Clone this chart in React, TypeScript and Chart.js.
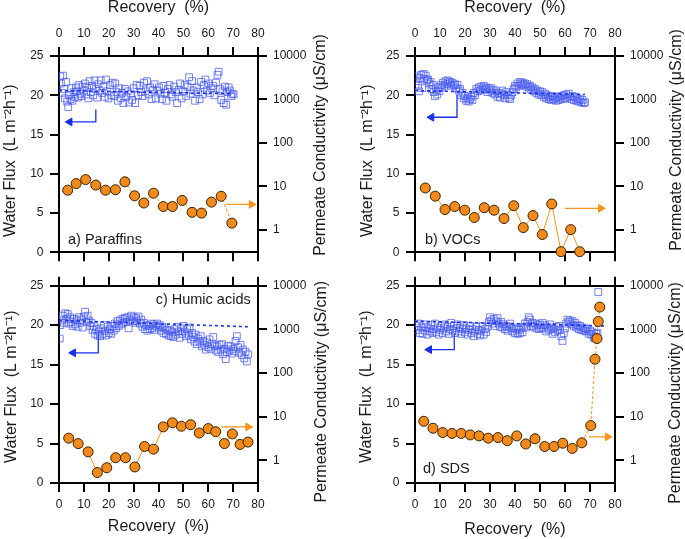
import React, { useEffect, useRef } from "react";
import { Chart, registerables } from "chart.js";

Chart.register(...registerables);

const FONT = "'Liberation Sans', Arial, Helvetica, sans-serif";
const INK = "#1a1a1a";

// ---------- axis values ----------
const RECOVERY_MIN = 0;
const RECOVERY_MAX = 80;
const RECOVERY_STEP = 10;
const FLUX_MIN = 0;
const FLUX_MAX = 25;
const FLUX_STEP = 5;
const COND_MIN = 0.3;
const COND_MAX = 10000;
const COND_TICKS = [1, 10, 100, 1000, 10000];

const X_TITLE = "Recovery  (%)";
const LEFT_TITLE = "Water Flux  (L m\u207B\u00B2h\u207B\u00B9)";
const RIGHT_TITLE = "Permeate Conductivity (\u03BCS/cm)";

// ---------- a) Paraffins ----------
const fluxA: [number, number][] = [
  [0.5, 22.4], [0.8, 21.5], [1.2, 20.3], [1.6, 22.5], [2.0, 20.8], [2.4, 19.6], [2.8, 21.7], [3.3, 19.2],
  [3.7, 18.5], [4.1, 20.0], [4.6, 19.5], [5.0, 20.9], [5.4, 19.3], [5.9, 20.4], [6.3, 19.8], [6.8, 21.0],
  [7.2, 20.5], [7.6, 19.7], [8.1, 21.3], [8.5, 20.2], [9.0, 19.9], [9.4, 21.1], [9.9, 20.6], [10.4, 21.5],
  [10.9, 20.1], [11.3, 21.0], [11.8, 19.6], [12.3, 21.8], [12.8, 20.4], [13.3, 21.2], [13.8, 20.0], [14.3, 21.9],
  [14.8, 20.8], [15.3, 19.7], [15.8, 21.4], [16.3, 20.6], [16.8, 21.9], [17.3, 20.3], [17.9, 21.1], [18.4, 19.8],
  [18.9, 22.0], [19.4, 20.5], [19.9, 19.6], [20.5, 21.3], [21.0, 20.0], [21.5, 21.6], [22.1, 19.9], [22.6, 21.5],
  [23.1, 20.4], [23.7, 19.3], [24.2, 20.9], [24.8, 19.6], [25.3, 20.3], [25.9, 19.0], [26.5, 20.8], [27.0, 19.8],
  [27.6, 20.5], [28.2, 19.1], [28.8, 20.2], [29.4, 19.4], [30.0, 20.9], [30.6, 19.0], [31.2, 21.3], [31.8, 20.0],
  [32.4, 21.2], [33.0, 20.4], [33.6, 19.9], [34.2, 21.6], [34.8, 20.5], [35.4, 21.8], [36.0, 20.1], [36.6, 21.0],
  [37.2, 19.5], [37.8, 20.7], [38.4, 21.4], [39.0, 19.6], [39.6, 20.6], [40.2, 21.0], [40.8, 20.2], [41.4, 19.5],
  [42.0, 21.2], [42.6, 20.3], [43.2, 19.3], [43.8, 20.8], [44.4, 21.3], [45.0, 20.1], [45.6, 19.8], [46.3, 21.1],
  [46.9, 20.4], [47.5, 19.0], [48.1, 20.7], [48.7, 21.5], [49.3, 19.6], [49.9, 20.5], [50.5, 21.3], [51.1, 19.9],
  [51.7, 21.1], [52.3, 22.3], [52.9, 20.2], [53.5, 21.8], [54.1, 20.6], [54.7, 19.3], [55.3, 21.0], [55.9, 20.4],
  [56.5, 19.5], [57.1, 21.7], [57.7, 20.1], [58.3, 21.3], [58.9, 22.0], [59.5, 20.6], [60.1, 21.5], [60.7, 20.3],
  [61.3, 20.9], [61.9, 21.2], [62.5, 20.0], [63.1, 21.6], [63.7, 22.6], [64.2, 23.0], [64.7, 20.8], [65.2, 19.4],
  [65.7, 20.5], [66.2, 19.0], [66.7, 21.1], [67.2, 18.8], [67.7, 20.4], [68.2, 21.0], [68.7, 20.6], [69.2, 19.9],
  [69.7, 20.2], [70.2, 20.1],
];
const condA: [number, number][] = [
  [3.5, 8.1], [6.9, 11.5], [10.7, 14.2], [14.8, 10.6], [18.7, 8.1], [22.7, 8.3], [26.5, 12.6], [30.4, 6.0],
  [34.1, 4.1], [38.0, 6.9], [41.9, 3.4], [45.6, 3.4], [49.5, 4.7], [53.5, 2.5], [57.3, 2.4], [61.3, 4.3],
  [65.2, 5.85], [69.5, 1.41],
];
const trendA: [number, number][] = [[0, 20.6], [70, 20.2]];
const fluxArrowA: [number, number][] = [[14.8, 18.2], [14.8, 16.6], [4.3, 16.6]];
const condArrowA: [number, number][] = [[67.2, 6.1], [77.4, 6.1]];

// ---------- b) VOCs ----------
const fluxB: [number, number][] = [
  [0.3, 21.8], [0.8, 22.4], [1.2, 21.2], [1.6, 20.5], [2.0, 22.2], [2.5, 22.6], [2.9, 20.9], [3.4, 22.7],
  [3.8, 22.1], [4.3, 22.5], [4.8, 21.9], [5.2, 22.0], [5.7, 21.5], [6.2, 21.7], [6.6, 20.8], [7.1, 21.3],
  [7.5, 20.4], [8.0, 19.9], [8.4, 20.6], [8.9, 20.1], [9.3, 21.0], [9.8, 20.5], [10.3, 21.3], [10.7, 21.0],
  [11.2, 21.6], [11.7, 21.2], [12.1, 21.8], [12.6, 21.4], [13.1, 21.9], [13.5, 21.5], [14.0, 21.7], [14.5, 21.2],
  [15.0, 21.6], [15.5, 21.3], [16.0, 21.4], [16.5, 20.9], [17.0, 21.3], [17.5, 20.6], [18.0, 20.8], [18.5, 20.0],
  [19.0, 20.3], [19.5, 19.6], [20.0, 19.9], [20.5, 19.3], [21.0, 19.6], [21.5, 19.2], [22.0, 19.5], [22.5, 19.8],
  [23.0, 19.4], [23.5, 20.3], [24.0, 20.0], [24.5, 20.8], [25.0, 20.5], [25.5, 21.0], [26.0, 20.6], [26.5, 21.1],
  [27.0, 20.7], [27.5, 21.2], [28.0, 20.8], [28.5, 21.0], [29.0, 20.4], [29.5, 20.9], [30.0, 20.6], [30.5, 20.9],
  [31.0, 20.3], [31.5, 20.7], [32.0, 20.1], [32.5, 20.5], [33.0, 19.8], [33.5, 20.3], [34.0, 19.7], [34.5, 20.2],
  [35.0, 20.6], [35.5, 20.0], [36.0, 19.6], [36.5, 20.4], [37.0, 20.1], [37.5, 19.7], [38.0, 19.5], [38.5, 20.0],
  [39.0, 20.4], [39.5, 20.8], [40.0, 21.2], [40.5, 21.0], [41.0, 21.5], [41.5, 21.2], [42.0, 21.7], [42.5, 21.4],
  [43.0, 21.6], [43.5, 21.3], [44.0, 21.5], [44.5, 21.1], [45.0, 21.4], [45.5, 21.0], [46.0, 21.2], [46.5, 20.7],
  [47.0, 21.0], [47.5, 20.5], [48.0, 20.8], [48.5, 20.3], [49.0, 20.6], [49.5, 20.1], [50.0, 20.5], [50.5, 20.0],
  [51.0, 20.4], [51.5, 19.8], [52.0, 20.2], [52.5, 19.6], [53.0, 20.0], [53.5, 19.5], [54.0, 19.8], [54.5, 19.4],
  [55.0, 19.9], [55.5, 19.5], [56.0, 19.7], [56.5, 19.3], [57.0, 19.8], [57.5, 19.4], [58.0, 19.6], [58.5, 19.9],
  [59.0, 19.5], [59.5, 20.0], [60.0, 19.6], [60.5, 20.1], [61.0, 19.7], [61.5, 20.2], [62.0, 19.8], [62.5, 19.5],
  [63.0, 19.9], [63.5, 19.4], [64.0, 19.8], [64.5, 19.3], [65.0, 19.6], [65.5, 19.2], [66.0, 19.5], [66.5, 19.1],
  [67.0, 19.4], [67.5, 19.0], [68.0, 19.1],
];
const condB: [number, number][] = [
  [4.1, 9.1], [8.1, 5.9], [12.0, 2.9], [15.9, 3.4], [19.9, 2.8], [23.7, 1.9], [27.7, 3.2], [31.6, 2.8],
  [35.6, 1.8], [39.5, 3.55], [43.3, 1.11], [47.2, 2.1], [50.9, 0.77], [54.7, 3.9], [58.4, 0.31], [62.3, 1.0],
  [65.9, 0.31],
];
const trendB: [number, number][] = [[0, 20.6], [68, 20.1]];
const fluxArrowB: [number, number][] = [[16.8, 20.1], [16.8, 17.2], [6.6, 17.2]];
const condArrowB: [number, number][] = [[59.9, 5.6], [74.3, 5.6]];

// ---------- c) Humic acids ----------
const fluxC: [number, number][] = [
  [0.3, 18.3], [0.5, 20.0], [1.0, 20.6], [1.5, 21.2], [2.0, 20.3], [2.5, 21.5], [3.0, 20.8], [3.5, 21.4],
  [4.0, 20.2], [4.5, 21.0], [5.0, 20.4], [5.5, 19.9], [6.0, 20.8], [6.5, 20.1], [7.0, 20.6], [7.5, 19.8],
  [8.0, 21.0], [8.5, 20.3], [9.0, 20.7], [9.5, 19.7], [10.0, 21.1], [10.5, 21.7], [11.0, 20.4], [11.5, 21.2],
  [12.0, 20.6], [12.5, 19.9], [13.0, 20.3], [13.5, 19.4], [14.0, 19.9], [14.5, 18.9], [15.0, 19.5], [15.5, 18.7],
  [16.0, 19.2], [16.5, 18.6], [17.0, 19.6], [17.5, 18.9], [18.0, 20.0], [18.5, 19.3], [19.0, 18.7], [19.5, 19.8],
  [20.0, 19.0], [20.5, 19.5], [21.0, 18.9], [21.5, 19.9], [22.0, 19.3], [22.5, 20.2], [23.0, 19.6], [23.5, 20.5],
  [24.0, 19.9], [24.5, 20.6], [25.0, 20.1], [25.5, 20.8], [26.0, 20.3], [26.5, 20.9], [27.0, 20.4], [27.5, 21.0],
  [28.0, 19.6], [28.5, 20.7], [29.0, 21.2], [29.5, 20.5], [30.0, 21.0], [30.5, 20.3], [31.0, 20.9], [31.5, 20.5],
  [32.0, 21.1], [32.5, 20.2], [33.0, 20.7], [33.5, 19.8], [34.0, 20.3], [34.5, 19.5], [35.0, 20.0], [35.5, 19.3],
  [36.0, 19.9], [36.5, 19.5], [37.0, 20.2], [37.5, 19.6], [38.0, 20.1], [38.5, 19.4], [39.0, 19.9], [39.5, 20.2],
  [40.0, 19.7], [40.5, 20.0], [41.0, 19.3], [41.5, 19.8], [42.0, 19.0], [42.5, 19.6], [43.0, 18.9], [43.5, 19.4],
  [44.0, 18.7], [44.5, 19.3], [45.0, 18.6], [45.5, 19.1], [46.0, 18.5], [46.5, 19.5], [47.0, 18.8], [47.5, 19.8],
  [48.0, 19.2], [48.5, 18.4], [49.0, 19.6], [49.5, 18.9], [50.0, 19.9], [50.5, 19.2], [51.0, 18.6], [51.5, 19.5],
  [52.0, 18.8], [52.5, 19.7], [53.0, 18.2], [53.5, 19.0], [54.0, 18.5], [54.5, 17.9], [55.0, 18.8], [55.5, 17.6],
  [56.0, 18.3], [56.5, 17.9], [57.0, 18.6], [57.5, 17.3], [58.0, 18.0], [58.5, 17.5], [59.0, 16.9], [59.5, 17.8],
  [60.0, 17.2], [60.5, 18.2], [61.0, 17.0], [61.5, 17.6], [62.0, 18.5], [62.5, 17.4], [63.0, 16.8], [63.5, 17.3],
  [64.0, 16.6], [64.5, 17.5], [65.0, 16.9], [65.5, 17.6], [66.0, 16.3], [66.5, 17.0], [67.0, 15.7], [67.5, 16.6],
  [68.0, 17.4], [68.5, 16.8], [69.0, 17.3], [69.5, 16.4], [70.0, 17.0], [70.5, 16.7], [71.0, 18.0], [71.5, 18.6],
  [72.0, 17.2], [72.5, 16.5], [73.0, 17.5], [73.5, 16.2], [74.0, 16.9], [74.5, 15.8], [75.0, 16.6], [75.5, 15.4],
  [76.0, 16.3],
];
const condC: [number, number][] = [
  [3.9, 3.2], [7.7, 2.4], [11.7, 1.55], [15.4, 0.52], [19.2, 0.67], [22.8, 1.14], [26.7, 1.14], [30.5, 0.7],
  [34.4, 2.06], [38.0, 1.79], [41.9, 5.8], [45.6, 7.2], [49.2, 6.0], [52.9, 6.5], [56.4, 4.2], [60.0, 5.3],
  [63.0, 4.5], [66.5, 2.4], [69.7, 4.0], [72.8, 2.3], [76.0, 2.6],
];
const trendC: [number, number][] = [[0, 20.6], [76, 19.8]];
const fluxArrowC: [number, number][] = [[15.8, 19.0], [15.8, 16.5], [5.7, 16.5]];
const condArrowC: [number, number][] = [[65.2, 7.1], [76.0, 7.1]];

// ---------- d) SDS ----------
const fluxD: [number, number][] = [
  [0.5, 19.9], [1.0, 19.4], [1.5, 20.2], [2.0, 19.0], [2.5, 19.7], [3.0, 18.9], [3.5, 20.1], [4.0, 19.3],
  [4.5, 19.8], [5.0, 18.8], [5.5, 19.6], [6.0, 19.2], [6.5, 20.0], [7.0, 19.0], [7.5, 19.5], [8.0, 20.2],
  [8.5, 19.1], [9.0, 19.7], [9.5, 18.8], [10.0, 19.4], [10.5, 19.9], [11.0, 19.0], [11.5, 19.6], [12.0, 20.1],
  [12.5, 19.2], [13.0, 19.8], [13.5, 18.9], [14.0, 19.5], [14.5, 20.3], [15.0, 19.3], [15.5, 19.9], [16.0, 19.0],
  [16.5, 19.6], [17.0, 20.1], [17.5, 19.2], [18.0, 19.7], [18.5, 18.9], [19.0, 19.5], [19.5, 20.0], [20.0, 19.1],
  [20.5, 19.6], [21.0, 18.8], [21.5, 19.4], [22.0, 19.9], [22.5, 19.0], [23.0, 19.5], [23.5, 18.6], [24.0, 19.2],
  [24.5, 19.8], [25.0, 18.9], [25.5, 19.4], [26.0, 18.7], [26.5, 19.3], [27.0, 19.9], [27.5, 18.8], [28.0, 19.5],
  [28.5, 19.1], [29.0, 19.8], [29.5, 20.4], [30.0, 21.0], [30.5, 20.6], [31.0, 20.2], [31.5, 20.8], [32.0, 19.9],
  [32.5, 20.5], [33.0, 20.9], [33.5, 20.2], [34.0, 19.8], [34.5, 20.4], [35.0, 19.7], [35.5, 20.1], [36.0, 19.5],
  [36.5, 19.9], [37.0, 19.3], [37.5, 19.8], [38.0, 20.2], [38.5, 19.6], [39.0, 19.2], [39.5, 19.7], [40.0, 19.0],
  [40.5, 19.5], [41.0, 18.9], [41.5, 19.4], [42.0, 19.0], [42.5, 19.6], [43.0, 19.1], [43.5, 19.8], [44.0, 20.2],
  [44.5, 19.7], [45.0, 20.4], [45.5, 21.0], [46.0, 20.7], [46.5, 19.9], [47.0, 20.3], [47.5, 19.8], [48.0, 20.2],
  [48.5, 19.6], [49.0, 20.0], [49.5, 19.5], [50.0, 20.1], [50.5, 19.7], [51.0, 20.3], [51.5, 19.6], [52.0, 20.0],
  [52.5, 19.2], [53.0, 19.8], [53.5, 19.4], [54.0, 20.1], [54.5, 19.5], [55.0, 18.9], [55.5, 19.6], [56.0, 19.1],
  [56.5, 19.8], [57.0, 19.3], [57.5, 19.9], [58.0, 19.4], [58.5, 18.6], [59.0, 18.0], [59.5, 19.0], [60.0, 19.6],
  [60.5, 20.2], [61.0, 20.7], [61.5, 20.4], [62.0, 20.6], [62.5, 20.1], [63.0, 20.5], [63.5, 19.9], [64.0, 20.3],
  [64.5, 19.7], [65.0, 20.0], [65.5, 19.5], [66.0, 19.9], [66.5, 19.4], [67.0, 19.7], [67.5, 19.3], [68.0, 19.6],
  [68.5, 19.2], [69.0, 19.5], [69.5, 18.9], [70.0, 19.3], [70.5, 18.8], [71.0, 19.1], [71.5, 18.5], [72.0, 18.3],
  [72.5, 18.9], [73.0, 19.0], [73.3, 24.2],
];
const condD: [number, number][] = [
  [3.5, 7.8], [7.2, 5.4], [11.1, 4.3], [14.8, 4.1], [18.5, 4.1], [22.1, 3.8], [25.6, 3.6], [29.3, 3.2],
  [33.2, 3.3], [36.9, 2.8], [40.7, 3.6], [44.3, 2.35], [48.0, 3.1], [51.9, 2.06], [55.6, 2.06], [59.1, 2.45],
  [62.9, 1.86], [66.7, 2.5], [70.3, 6.2], [72.0, 206], [72.8, 614], [73.3, 1513], [73.9, 3240],
];
const trendD: [number, number][] = [[0, 20.5], [76, 19.9]];
const fluxArrowD: [number, number][] = [[15.7, 19.0], [15.7, 16.9], [5.7, 16.9]];
const condArrowD: [number, number][] = [[69.5, 5.85], [77.0, 5.85]];

// ---------- layout of the four panels ----------
interface PanelSpec {
  key: string;
  flux: [number, number][];
  cond: [number, number][];
  trend: [number, number][];
  fluxArrow: [number, number][];
  condArrow: [number, number][];
  condDash: number[];
  box: { left: number; top: number; width: number; height: number };
  sizes: { left: number; right: number; top: number; bottom: number };
  xTitleAt: "top" | "bottom";
  xTitlePad: number;
  leftTitle: { x: number; y: number };
  rightTitle: { x: number; y: number };
}

const PANELS: PanelSpec[] = [
  {
    key: "a", flux: fluxA, cond: condA, trend: trendA, fluxArrow: fluxArrowA, condArrow: condArrowA,
    condDash: [3, 2],
    box: { left: 0, top: 0, width: 340, height: 266 },
    sizes: { left: 59, right: 82, top: 56, bottom: 10 },
    xTitleAt: "top", xTitlePad: 0,
    leftTitle: { x: 10.5, y: 160.8 }, rightTitle: { x: 321, y: 145 },
  },
  {
    key: "b", flux: fluxB, cond: condB, trend: trendB, fluxArrow: fluxArrowB, condArrow: condArrowB,
    condDash: [],
    box: { left: 358, top: 0, width: 327, height: 266 },
    sizes: { left: 57, right: 70, top: 56, bottom: 10 },
    xTitleAt: "top", xTitlePad: 0,
    leftTitle: { x: 10, y: 160.8 }, rightTitle: { x: 319, y: 140 },
  },
  {
    key: "c", flux: fluxC, cond: condC, trend: trendC, fluxArrow: fluxArrowC, condArrow: condArrowC,
    condDash: [],
    box: { left: 0, top: 272, width: 340, height: 267 },
    sizes: { left: 59, right: 82, top: 12, bottom: 56 },
    xTitleAt: "bottom", xTitlePad: 4,
    leftTitle: { x: 11.5, y: 114.7 }, rightTitle: { x: 321.5, y: 119.7 },
  },
  {
    key: "d", flux: fluxD, cond: condD, trend: trendD, fluxArrow: fluxArrowD, condArrow: condArrowD,
    condDash: [3, 2],
    box: { left: 358, top: 272, width: 327, height: 267 },
    sizes: { left: 57, right: 70, top: 12, bottom: 56 },
    xTitleAt: "bottom", xTitlePad: 1.5,
    leftTitle: { x: 9, y: 114.7 }, rightTitle: { x: 317.3, y: 121 },
  },
];

const PANEL_LABELS = [
  { text: "a) Paraffins", left: 68, cy: 239.3 },
  { text: "b) VOCs", left: 425, cy: 239 },
  { text: "c) Humic acids", right: 434.3, cy: 299 },
  { text: "d) SDS", left: 423, cy: 468.3 },
];

const toPts = (arr: [number, number][]) => arr.map(([x, y]) => ({ x, y }));

function Panel({ spec }: { spec: PanelSpec }) {
  const ref = useRef<HTMLCanvasElement | null>(null);

  useEffect(() => {
    const canvas = ref.current;
    if (!canvas) return;
    const tickFont = { family: FONT, size: 12 };
    const titleFont = { family: FONT, size: 16, lineHeight: 1 };
    const grid = {
      display: true, drawOnChartArea: false, drawTicks: true,
      tickLength: 9, tickWidth: 2, tickColor: "#000", lineWidth: 2, color: "#000",
    };
    const border = { display: true, color: "#000", width: 2 };
    const topLabels = spec.xTitleAt === "top";

    const vTitles = {
      id: "vTitles",
      afterDraw(chart: any) {
        const ctx = chart.ctx;
        ctx.save();
        ctx.fillStyle = INK;
        ctx.font = `16px ${FONT}`;
        ctx.textAlign = "center";
        ctx.textBaseline = "middle";
        [
          { t: LEFT_TITLE, p: spec.leftTitle },
          { t: RIGHT_TITLE, p: spec.rightTitle },
        ].forEach(({ t, p }) => {
          ctx.save();
          ctx.translate(p.x, p.y);
          ctx.rotate(-Math.PI / 2);
          ctx.fillText(t, 0, 0);
          ctx.restore();
        });
        ctx.restore();
      },
    };

    const chart = new Chart(canvas, {
      type: "line",
      data: {
        datasets: [
          {
            label: "Permeate conductivity",
            data: toPts(spec.cond),
            xAxisID: "x",
            yAxisID: "y2",
            borderColor: "#f7941d",
            borderWidth: 1,
            borderDash: spec.condDash,
            pointStyle: "circle",
            pointRadius: 5,
            pointBackgroundColor: "#f28a1c",
            pointBorderColor: "#3a2200",
            pointBorderWidth: 1,
            clip: false,
            tension: 0,
            order: 0,
          },
          {
            label: "Trend",
            data: toPts(spec.trend),
            xAxisID: "x",
            yAxisID: "y",
            borderColor: "#1f33e6",
            borderWidth: 1.6,
            borderDash: [3, 3],
            pointRadius: 0,
            order: 1,
          },
          {
            label: "Water flux",
            data: toPts(spec.flux),
            xAxisID: "x",
            yAxisID: "y",
            showLine: false,
            pointStyle: "rect",
            pointRadius: 4.8,
            pointBorderColor: "rgba(70,90,240,0.75)",
            pointBackgroundColor: "rgba(255,255,255,0)",
            pointBorderWidth: 1,
            order: 2,
          },
          {
            label: "Flux arrow",
            data: toPts(spec.fluxArrow),
            xAxisID: "x",
            yAxisID: "y",
            borderColor: "#1730e8",
            borderWidth: 1.3,
            pointStyle: "triangle",
            pointRadius: [0, 0, 4.5],
            pointRotation: -90,
            pointBackgroundColor: "#1730e8",
            pointBorderColor: "#1730e8",
            pointBorderWidth: 1,
            order: 3,
          },
          {
            label: "Conductivity arrow",
            data: toPts(spec.condArrow),
            xAxisID: "x",
            yAxisID: "y",
            borderColor: "#f7941d",
            borderWidth: 1.3,
            pointStyle: "triangle",
            pointRadius: [0, 4.5],
            pointRotation: 90,
            pointBackgroundColor: "#f7941d",
            pointBorderColor: "#f7941d",
            pointBorderWidth: 1,
            order: 4,
          },
        ],
      },
      options: {
        responsive: false,
        maintainAspectRatio: false,
        animation: false,
        devicePixelRatio: 1,
        layout: { padding: 0 },
        plugins: { legend: { display: false }, tooltip: { enabled: false } },
        scales: {
          x: {
            type: "linear",
            position: "bottom",
            min: RECOVERY_MIN,
            max: RECOVERY_MAX,
            ticks: {
              stepSize: RECOVERY_STEP, padding: 5.8, color: INK, font: tickFont,
              maxRotation: 0, autoSkip: false,
              callback: (v: any) => (topLabels ? "" : String(v)),
            },
            grid, border,
            title: {
              display: !topLabels, text: X_TITLE, color: INK, font: titleFont,
              padding: { top: 0, bottom: spec.xTitlePad },
            },
            afterFit: (s: any) => { s.height = spec.sizes.bottom; },
          },
          x2: {
            type: "linear",
            position: "top",
            min: RECOVERY_MIN,
            max: RECOVERY_MAX,
            ticks: {
              stepSize: RECOVERY_STEP, padding: 5.8, color: INK, font: tickFont,
              maxRotation: 0, autoSkip: false,
              callback: (v: any) => (topLabels ? String(v) : ""),
            },
            grid, border,
            title: {
              display: topLabels, text: X_TITLE, color: INK, font: titleFont,
              padding: { top: spec.xTitlePad, bottom: 0 },
            },
            afterFit: (s: any) => { s.height = spec.sizes.top; },
          },
          y: {
            type: "linear",
            position: "left",
            min: FLUX_MIN,
            max: FLUX_MAX,
            ticks: { stepSize: FLUX_STEP, padding: 6.5, color: INK, font: tickFont },
            grid, border,
            afterFit: (s: any) => { s.width = spec.sizes.left; },
          },
          y2: {
            type: "logarithmic",
            position: "right",
            min: COND_MIN,
            max: COND_MAX,
            afterBuildTicks: (s: any) => { s.ticks = COND_TICKS.map((value) => ({ value })); },
            ticks: {
              padding: 6, color: INK, font: tickFont, autoSkip: false,
              callback: (v: any) => String(v),
            },
            grid, border,
            afterFit: (s: any) => { s.width = spec.sizes.right; },
          },
        },
      },
      plugins: [vTitles],
    } as any);

    return () => chart.destroy();
  }, [spec]);

  const { left, top, width, height } = spec.box;
  return (
    <canvas
      ref={ref}
      width={width}
      height={height}
      style={{ position: "absolute", left, top, width, height }}
    />
  );
}

export default function App() {
  return (
    <div
      style={{
        position: "absolute", left: 0, top: 0, width: 685, height: 539,
        background: "#fff", overflow: "hidden", fontFamily: FONT,
      }}
    >
      {PANELS.map((p) => (
        <Panel key={p.key} spec={p} />
      ))}
      {PANEL_LABELS.map((l) => (
        <div
          key={l.text}
          style={{
            position: "absolute",
            top: l.cy - 8,
            left: (l as any).left,
            right: (l as any).right,
            lineHeight: "16px",
            fontSize: 14.5,
            color: INK,
            whiteSpace: "nowrap",
          }}
        >
          {l.text}
        </div>
      ))}
    </div>
  );
}
